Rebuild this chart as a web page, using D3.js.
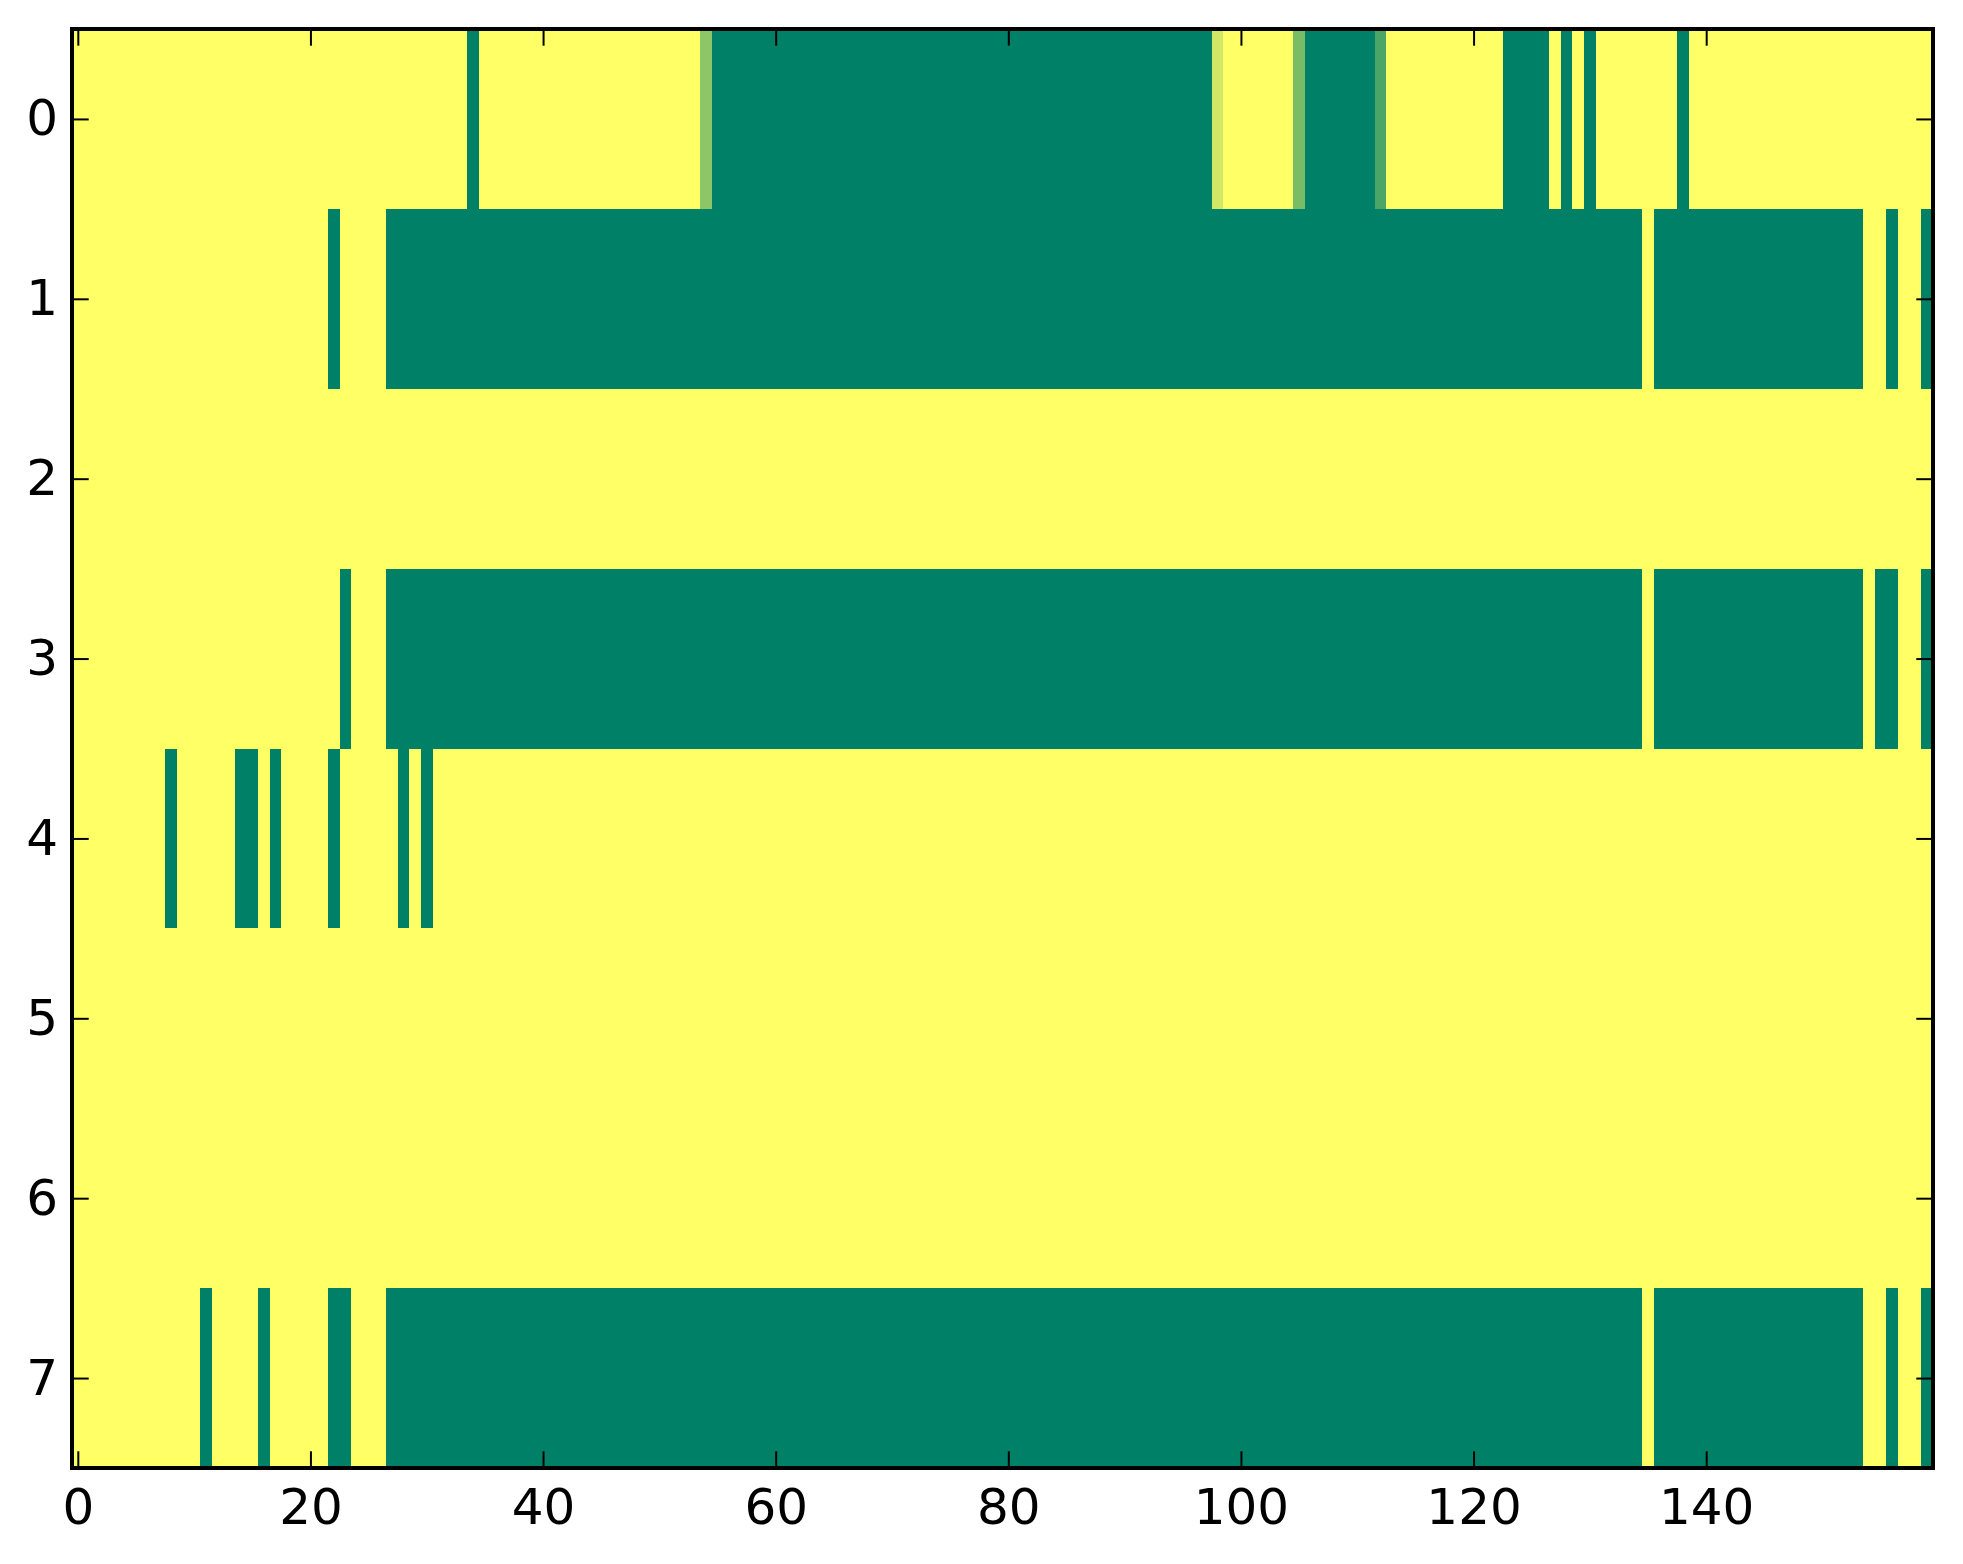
<!DOCTYPE html>
<html>
<head>
<meta charset="utf-8">
<script src="https://cdn.jsdelivr.net/npm/d3@7"></script>
<style>
  html, body { margin: 0; padding: 0; background: #fff; }
  svg { display: block; }
  text { font-family: "DejaVu Sans", sans-serif; }
</style>
</head>
<body>
<svg id="chart" width="1963" height="1564"></svg>
<script>
// ---- data: 8 rows x 160 columns, values 0 (dark green) .. 1 (yellow), "summer" colormap ----
const row0 = [
  1,1,1,1,1,1,1,1,1,1, 1,1,1,1,1,1,1,1,1,1,
  1,1,1,1,1,1,1,1,1,1, 1,1,1,1,0,1,1,1,1,1,
  1,1,1,1,1,1,1,1,1,1, 1,1,1,1,0.55,0,0,0,0,0,
  0,0,0,0,0,0,0,0,0,0, 0,0,0,0,0,0,0,0,0,0,
  0,0,0,0,0,0,0,0,0,0, 0,0,0,0,0,0,0,0,0.82,1,
  1,1,1,1,1,0.47,0,0,0,0, 0,0,0.29,1,1,1,1,1,1,1,
  1,1,1,0,0,0,0,1,0,1, 0,1,1,1,1,1,1,1,0,1,
  1,1,1,1,1,1,1,1,1,1, 1,1,1,1,1,1,1,1,1,1
];
const row1 = [
  1,1,1,1,1,1,1,1,1,1, 1,1,1,1,1,1,1,1,1,1,
  1,1,0,1,1,1,1,0,0,0, 0,0,0,0,0,0,0,0,0,0,
  0,0,0,0,0,0,0,0,0,0, 0,0,0,0,0,0,0,0,0,0,
  0,0,0,0,0,0,0,0,0,0, 0,0,0,0,0,0,0,0,0,0,
  0,0,0,0,0,0,0,0,0,0, 0,0,0,0,0,0,0,0,0,0,
  0,0,0,0,0,0,0,0,0,0, 0,0,0,0,0,0,0,0,0,0,
  0,0,0,0,0,0,0,0,0,0, 0,0,0,0,0,1,0,0,0,0,
  0,0,0,0,0,0,0,0,0,0, 0,0,0,0,1,1,0,1,1,0
];
const row2 = [
  1,1,1,1,1,1,1,1,1,1, 1,1,1,1,1,1,1,1,1,1,
  1,1,1,1,1,1,1,1,1,1, 1,1,1,1,1,1,1,1,1,1,
  1,1,1,1,1,1,1,1,1,1, 1,1,1,1,1,1,1,1,1,1,
  1,1,1,1,1,1,1,1,1,1, 1,1,1,1,1,1,1,1,1,1,
  1,1,1,1,1,1,1,1,1,1, 1,1,1,1,1,1,1,1,1,1,
  1,1,1,1,1,1,1,1,1,1, 1,1,1,1,1,1,1,1,1,1,
  1,1,1,1,1,1,1,1,1,1, 1,1,1,1,1,1,1,1,1,1,
  1,1,1,1,1,1,1,1,1,1, 1,1,1,1,1,1,1,1,1,1
];
const row3 = [
  1,1,1,1,1,1,1,1,1,1, 1,1,1,1,1,1,1,1,1,1,
  1,1,1,0,1,1,1,0,0,0, 0,0,0,0,0,0,0,0,0,0,
  0,0,0,0,0,0,0,0,0,0, 0,0,0,0,0,0,0,0,0,0,
  0,0,0,0,0,0,0,0,0,0, 0,0,0,0,0,0,0,0,0,0,
  0,0,0,0,0,0,0,0,0,0, 0,0,0,0,0,0,0,0,0,0,
  0,0,0,0,0,0,0,0,0,0, 0,0,0,0,0,0,0,0,0,0,
  0,0,0,0,0,0,0,0,0,0, 0,0,0,0,0,1,0,0,0,0,
  0,0,0,0,0,0,0,0,0,0, 0,0,0,0,1,0,0,1,1,0
];
const row4 = [
  1,1,1,1,1,1,1,1,0,1, 1,1,1,1,0,0,1,0,1,1,
  1,1,0,1,1,1,1,1,0,1, 0,1,1,1,1,1,1,1,1,1,
  1,1,1,1,1,1,1,1,1,1, 1,1,1,1,1,1,1,1,1,1,
  1,1,1,1,1,1,1,1,1,1, 1,1,1,1,1,1,1,1,1,1,
  1,1,1,1,1,1,1,1,1,1, 1,1,1,1,1,1,1,1,1,1,
  1,1,1,1,1,1,1,1,1,1, 1,1,1,1,1,1,1,1,1,1,
  1,1,1,1,1,1,1,1,1,1, 1,1,1,1,1,1,1,1,1,1,
  1,1,1,1,1,1,1,1,1,1, 1,1,1,1,1,1,1,1,1,1
];
const row5 = row2.slice();
const row6 = row2.slice();
const row7 = [
  1,1,1,1,1,1,1,1,1,1, 1,0,1,1,1,1,0,1,1,1,
  1,1,0,0,1,1,1,0,0,0, 0,0,0,0,0,0,0,0,0,0,
  0,0,0,0,0,0,0,0,0,0, 0,0,0,0,0,0,0,0,0,0,
  0,0,0,0,0,0,0,0,0,0, 0,0,0,0,0,0,0,0,0,0,
  0,0,0,0,0,0,0,0,0,0, 0,0,0,0,0,0,0,0,0,0,
  0,0,0,0,0,0,0,0,0,0, 0,0,0,0,0,0,0,0,0,0,
  0,0,0,0,0,0,0,0,0,0, 0,0,0,0,0,1,0,0,0,0,
  0,0,0,0,0,0,0,0,0,0, 0,0,0,0,1,1,0,1,1,0
];
const rows = [row0, row1, row2, row3, row4, row5, row6, row7];
const xTicks = [0, 20, 40, 60, 80, 100, 120, 140];
const yTicks = [0, 1, 2, 3, 4, 5, 6, 7];

// ---- layout ----
const L = 72, R = 1933, T = 29, B = 1468;
const tickLen = 16.7, fontSize = 50;

const svg = d3.select("#chart");
const nCols = row0.length, nRows = rows.length;
const x = d3.scaleLinear().domain([-0.5, nCols - 0.5]).range([L, R]);
const y = d3.scaleLinear().domain([-0.5, nRows - 0.5]).range([T, B]);
// matplotlib "summer" colormap: (v, 0.5 + 0.5 v, 0.4)
const color = d3.scaleLinear().domain([0, 1]).range(["rgb(0,128,102)", "rgb(255,255,102)"]);

svg.append("defs").append("clipPath").attr("id", "clip")
  .append("rect").attr("x", L).attr("y", T).attr("width", R - L).attr("height", B - T);

const cells = [];
rows.forEach((r, ri) => r.forEach((v, ci) => cells.push({ r: ri, c: ci, v })));

svg.append("g").attr("clip-path", "url(#clip)")
  .selectAll("rect").data(cells).join("rect")
  .attr("x", d => x(d.c - 0.5))
  .attr("y", d => y(d.r - 0.5))
  .attr("width", d => x(d.c + 0.5) - x(d.c - 0.5) + 0.7)
  .attr("height", d => y(d.r + 0.5) - y(d.r - 0.5) + 0.7)
  .attr("fill", d => color(d.v))
  .attr("shape-rendering", "crispEdges");

function styleAxis(g) {
  g.select(".domain").remove();
  g.selectAll(".tick line").attr("stroke", "#000").attr("stroke-width", 2);
  g.selectAll(".tick text").attr("fill", "#000").style("font-size", fontSize + "px")
    .style("font-family", "'DejaVu Sans', sans-serif");
}

svg.append("g").attr("transform", `translate(0,${B})`)
  .call(d3.axisBottom(x).tickValues(xTicks).tickFormat(d3.format("d"))
    .tickSizeInner(-tickLen).tickSizeOuter(0).tickPadding(20))
  .call(styleAxis);
svg.append("g").attr("transform", `translate(0,${T})`)
  .call(d3.axisTop(x).tickValues(xTicks).tickFormat("")
    .tickSizeInner(-tickLen).tickSizeOuter(0))
  .call(styleAxis);
svg.append("g").attr("transform", `translate(${L},0)`)
  .call(d3.axisLeft(y).tickValues(yTicks).tickFormat(d3.format("d"))
    .tickSizeInner(-tickLen).tickSizeOuter(0).tickPadding(14))
  .call(styleAxis);
svg.append("g").attr("transform", `translate(${R},0)`)
  .call(d3.axisRight(y).tickValues(yTicks).tickFormat("")
    .tickSizeInner(-tickLen).tickSizeOuter(0))
  .call(styleAxis);

svg.append("rect").attr("x", L).attr("y", T).attr("width", R - L).attr("height", B - T)
  .attr("fill", "none").attr("stroke", "#000").attr("stroke-width", 4);
</script>
</body>
</html>
